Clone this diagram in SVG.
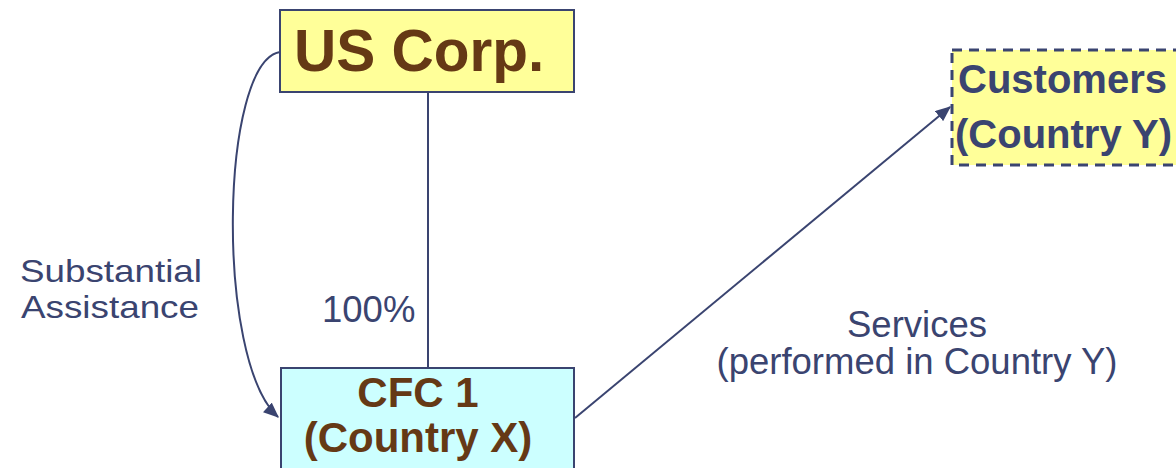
<svg xmlns="http://www.w3.org/2000/svg" width="1176" height="468" viewBox="0 0 1176 468">
<defs>
<marker id="ah" viewBox="0 0 12 10" refX="11" refY="5" markerWidth="16" markerHeight="13" orient="auto" markerUnits="userSpaceOnUse"><path d="M0,0 L12,5 L0,10 Z" fill="#3a4470"/></marker>
<style>
.node{stroke:#3a4470;stroke-width:2}
.nt{font-family:"Liberation Sans",Arial,sans-serif;font-weight:bold;fill:#653915}
.lbl{font-family:"Liberation Sans",Arial,sans-serif;font-size:36.5px;fill:#3a4470}
.conn{fill:none;stroke:#3a4470;stroke-width:2}
</style>
</defs>
<rect width="1176" height="468" fill="#ffffff"/>
<g id="connectors">
<line class="conn" x1="428" y1="92" x2="428" y2="368"/>
<path class="conn" d="M280,52 C220,62 215,360 278,417" marker-end="url(#ah)"/>
<line class="conn" x1="575" y1="418" x2="950" y2="107" marker-end="url(#ah)"/>
</g>
<g id="us-corp">
<rect class="node" x="280" y="10" width="294" height="82" fill="#ffff99"/>
<text class="nt" x="294" y="71" font-size="58.5">US Corp.</text>
</g>
<g id="cfc1">
<rect class="node" x="281" y="368" width="293" height="110" fill="#ccffff"/>
<text class="nt" x="418" y="407" font-size="42" text-anchor="middle">CFC 1</text>
<text class="nt" x="418" y="452" font-size="42" text-anchor="middle">(Country X)</text>
</g>
<g id="customers">
<rect x="952" y="50" width="240" height="115" fill="#ffff99" stroke="#3a4470" stroke-width="3" stroke-dasharray="10,7"/>
<text class="nt" x="958" y="93" font-size="40" style="fill:#3a4470">Customers</text>
<text class="nt" x="955" y="148" font-size="40" style="fill:#3a4470">(Country Y)</text>
</g>
<g id="labels">
<text class="lbl" x="20" y="282" style="font-size:32px" textLength="182" lengthAdjust="spacingAndGlyphs">Substantial</text>
<text class="lbl" x="21" y="318" style="font-size:32px" textLength="178" lengthAdjust="spacingAndGlyphs">Assistance</text>
<text class="lbl" x="322" y="322">100%</text>
<text class="lbl" x="917" y="337" text-anchor="middle">Services</text>
<text class="lbl" x="917" y="374" text-anchor="middle">(performed in Country Y)</text>
</g>
</svg>
